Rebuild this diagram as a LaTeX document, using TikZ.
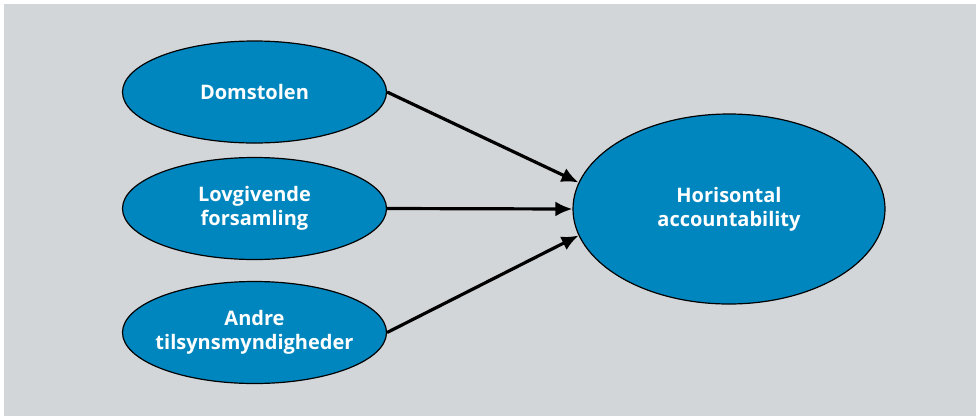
\documentclass[tikz,border=0pt]{standalone}
\usepackage{fontspec}
\setmainfont{Open Sans}
\usetikzlibrary{arrows.meta,shapes.geometric}

\definecolor{aktoerblaa}{RGB}{0,134,190}
\definecolor{baggrundgraa}{RGB}{211,214,217}

\tikzset{
	aktoer/.style={ellipse, draw=black, line width=1.2pt, fill=aktoerblaa, text=white,
		font=\bfseries\fontsize{20}{24}\selectfont, align=center, inner ysep=0pt, inner xsep=-30pt},
	lille/.style={aktoer, minimum width=264pt, minimum height=102pt},
	pil/.style={line width=3.2pt, -{Latex[length=17pt,width=15pt]}}
}

\begin{document}
\begin{tikzpicture}[x=1pt,y=-1pt]
					\useasboundingbox (0,0) rectangle (976,416);
					\fill[baggrundgraa] (4,4) rectangle (976,416);

					\node (domstol) [lille] at (254.5,92) {Domstolen};
					\node (lovgiv) [lille] at (254.5,208.5) {Lovgivende\\forsamling};
					\node (andre) [lille] at (254.5,332.5) {Andre\\tilsynsmyndigheder};

					\node (horisont) [aktoer, minimum width=312pt, minimum height=190pt] at (729,209) {Horisontal\\accountability};

					\draw[pil] (domstol.east) -- (horisont.170);
					\draw[pil] (lovgiv.east) -- (horisont.west);
					\draw[pil] (andre.east) -- (horisont.190);
				\end{tikzpicture}
\end{document}
